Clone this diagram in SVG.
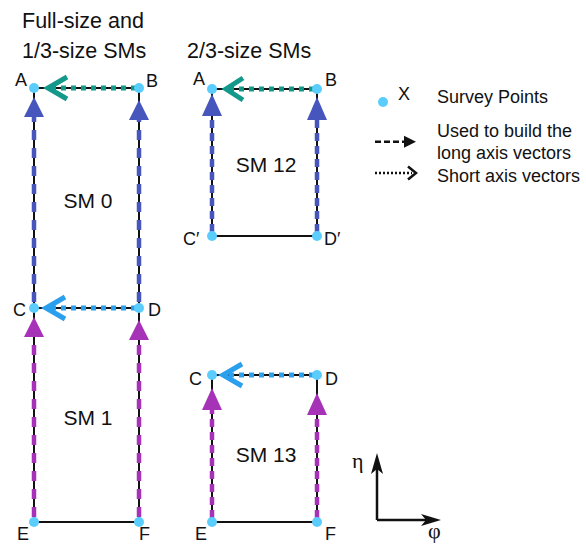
<svg xmlns="http://www.w3.org/2000/svg" width="586" height="544" viewBox="0 0 586 544">
<style>
text{font-family:"Liberation Sans",Arial,sans-serif;fill:#111}
.t{font-size:21.5px}
.sm{font-size:21px;text-anchor:middle}
.lb{font-size:18px}
.lg{font-size:18px}
.k{fill:none;stroke:#111;stroke-width:2}
.bd{fill:none;stroke:#4656bd;stroke-width:4.5;stroke-dasharray:10 8}
.bd2{fill:none;stroke:#4656bd;stroke-width:4.5;stroke-dasharray:8 5}
.pd{fill:none;stroke:#a632b8;stroke-width:4.5;stroke-dasharray:10 8}
.pd2{fill:none;stroke:#a632b8;stroke-width:4.5;stroke-dasharray:8 5}
.bt{fill:#4656bd}
.pt{fill:#a632b8}
.td{fill:none;stroke:#13998a;stroke-width:5;stroke-dasharray:5 5}
.lbd{fill:none;stroke:#2a9fee;stroke-width:5;stroke-dasharray:5 5}
.tc{fill:none;stroke:#13998a;stroke-width:5;stroke-linejoin:miter}
.lc{fill:none;stroke:#2a9fee;stroke-width:5;stroke-linejoin:miter}
.dot{fill:#5bcdfc}
.gr{font-family:"Liberation Serif","DejaVu Serif",serif;font-size:22px}
</style>
<g id="titles">
<text class="t" x="22" y="28">Full-size and</text>
<text class="t" x="22" y="58">1/3-size SMs</text>
<text class="t" x="187" y="58">2/3-size SMs</text>
</g>
<g id="connectors">
<path class="k" d="M34,88 V522 M139,88 V522 M34,88 H139 M34,308 H139 M34,522 H139"/>
<path class="k" d="M212,89 H317 V236 H212 Z"/>
<path class="k" d="M212,375 H317 V522 H212 Z"/>
<path class="bd" d="M34,302 V117 M139,302 V120"/>
<path class="pd" d="M34,517 V337 M139,517 V340"/>
<polygon class="bt" points="34,97 24,117 44,117"/>
<polygon class="bt" points="139,100 129,120 149,120"/>
<polygon class="pt" points="34,317 24,337 44,337"/>
<polygon class="pt" points="139,320 129,340 149,340"/>
<path class="bd2" d="M212,232 V116 M317,232 V120"/>
<path class="pd2" d="M212,518 V410 M317,518 V415"/>
<polygon class="bt" points="212,94 202,116 222,116"/>
<polygon class="bt" points="317,97 307,120 327,120"/>
<polygon class="pt" points="212,388 202,410 222,410"/>
<polygon class="pt" points="317,393 307,415 327,415"/>
<path class="td" d="M136,88 H52"/>
<polyline class="tc" points="67,77 48,88 67,99"/>
<path class="lbd" d="M136,308 H50"/>
<polyline class="lc" points="65,297 46,308 65,319"/>
<path class="td" d="M314,89 H230"/>
<polyline class="tc" points="243,78 226,89 243,100"/>
<path class="lbd" d="M314,375 H227"/>
<polyline class="lc" points="242,364 223,375 242,386"/>
</g>
<g id="points">
<circle class="dot" cx="34" cy="88" r="5"/><circle class="dot" cx="139" cy="88" r="5"/>
<circle class="dot" cx="34" cy="308" r="5"/><circle class="dot" cx="139" cy="308" r="5"/>
<circle class="dot" cx="34" cy="522" r="5"/><circle class="dot" cx="139" cy="522" r="5"/>
<circle class="dot" cx="212" cy="89" r="5"/><circle class="dot" cx="317" cy="89" r="5"/>
<circle class="dot" cx="212" cy="236" r="5"/><circle class="dot" cx="317" cy="236" r="5"/>
<circle class="dot" cx="212" cy="375" r="5"/><circle class="dot" cx="317" cy="375" r="5"/>
<circle class="dot" cx="212" cy="522" r="5"/><circle class="dot" cx="317" cy="522" r="5"/>
</g>
<g id="sm0"><text class="sm" x="88" y="208">SM 0</text></g>
<g id="sm1"><text class="sm" x="88" y="425">SM 1</text></g>
<g id="sm12"><text class="sm" x="266" y="172">SM 12</text></g>
<g id="sm13"><text class="sm" x="266" y="462">SM 13</text></g>
<g id="labels">
<text class="lb" x="15" y="86">A</text>
<text class="lb" x="146" y="87">B</text>
<text class="lb" x="13" y="316">C</text>
<text class="lb" x="148" y="316">D</text>
<text class="lb" x="17" y="540">E</text>
<text class="lb" x="139" y="540">F</text>
<text class="lb" x="193" y="85">A</text>
<text class="lb" x="325" y="86">B</text>
<text class="lb" x="183" y="245">C′</text>
<text class="lb" x="324" y="245">D′</text>
<text class="lb" x="189" y="385">C</text>
<text class="lb" x="325" y="385">D</text>
<text class="lb" x="195" y="540">E</text>
<text class="lb" x="325" y="540">F</text>
</g>
<g id="legend">
<circle class="dot" cx="383" cy="102" r="5"/>
<text class="lg" x="398" y="100">X</text>
<text class="lg" x="437" y="103">Survey Points</text>
<path d="M375,141.7 H404" fill="none" stroke="#111" stroke-width="2.5" stroke-dasharray="6 3"/>
<polygon points="416,141.7 404,135.7 404,147.7" fill="#111"/>
<text class="lg" x="437" y="137">Used to build the</text>
<text class="lg" x="437" y="159">long axis vectors</text>
<path d="M375,173 H412" fill="none" stroke="#111" stroke-width="2.5" stroke-dasharray="2 2"/>
<polyline points="408,166.5 416,173 408,179.5" fill="none" stroke="#111" stroke-width="2.5"/>
<text class="lg" x="437" y="182">Short axis vectors</text>
</g>
<g id="axes">
<path d="M377,520 V466 M377,520 H428" fill="none" stroke="#111" stroke-width="2.5"/>
<polygon points="377,453 371,474 377,469 383,474" fill="#111"/>
<polygon points="441,520 421,514 426,520 421,526" fill="#111"/>
<text class="gr" x="352" y="468">η</text>
<text class="gr" x="428" y="538">φ</text>
</g>
</svg>
